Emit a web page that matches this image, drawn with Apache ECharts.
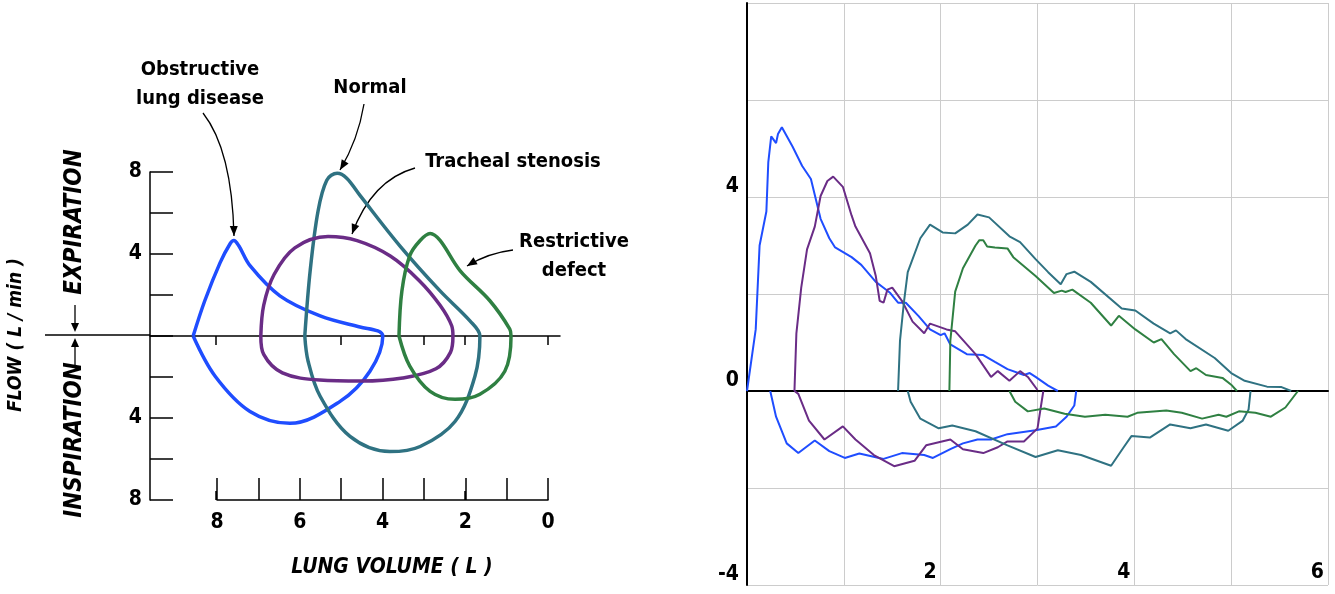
<!DOCTYPE html>
<html>
<head>
<meta charset="utf-8">
<script src="https://cdn.jsdelivr.net/npm/echarts@6/dist/echarts.min.js"></script>
<style>
  html, body { margin: 0; padding: 0; background: #fff; }
  #chart { width: 1335px; height: 594px; }
</style>
</head>
<body>
<div id="chart"></div>
<script>
'use strict';

var FONT = '"Liberation Sans Narrow", "DejaVu Sans Condensed", "Liberation Sans", sans-serif';

// left panel: idealised loops, [lung volume (L), flow] with expiration positive
var obstructiveLoop = [[8.55,0],[8.27,1.72],[7.9,3.58],[7.66,4.5],[7.57,4.66],[7.45,4.4],[7.18,3.43],[6.46,1.96],[5.49,0.98],[4.53,0.44],[4.1,0.25],[3.98,0],
  [4.29,-1.72],[5.01,-3.19],[6.22,-4.26],[7.18,-3.68],[8.02,-1.96],[8.55,0]];
var normalLoop = [[5.86,0],[5.73,3.19],[5.54,6.1],[5.33,7.6],[5.08,7.94],[4.85,7.7],[4.53,6.86],[3.57,4.4],[2.6,2.2],[1.88,0.74],[1.64,0],
  [1.76,-1.96],[2.24,-4.17],[3.08,-5.39],[3.81,-5.64],[4.77,-4.9],[5.49,-2.94],[5.78,-1.23],[5.86,0]];
var stenosisLoop = [[6.92,0],[6.85,1.5],[6.6,3],[6.1,4.3],[5.3,4.85],[4.6,4.65],[3.8,3.9],[3.1,2.7],[2.6,1.5],[2.32,0.5],[2.29,0],
  [2.35,-0.8],[2.7,-1.6],[3.5,-2.05],[4.5,-2.2],[5.5,-2.15],[6.4,-1.8],[6.85,-0.9],[6.92,0]];
var restrictiveLoop = [[3.59,0],[3.52,2.2],[3.33,3.92],[3.08,4.66],[2.84,5.0],[2.6,4.66],[2.12,3.19],[1.4,1.72],[0.92,0.34],[0.89,0],
  [1.04,-1.72],[1.64,-2.84],[2.24,-3.09],[2.84,-2.7],[3.33,-1.47],[3.59,0]];
var flowTickLabels = [8, 4, -4, -8];
var volumeZeroTicks = [0, 2, 3, 5, 8];

// right panel: measured traces, [volume (L), flow]
var blueExp = [[0,0],[0.09,1.27],[0.13,3.0],[0.2,3.7],[0.22,4.72],[0.25,5.25],[0.3,5.11],[0.32,5.3],[0.36,5.44],[0.47,5.04],[0.57,4.64],[0.66,4.37],[0.76,3.55],[0.85,3.15],[0.91,2.96],[1.08,2.76],[1.18,2.6],[1.33,2.25],[1.41,2.13],[1.48,2.02],[1.56,1.82],[1.64,1.82],[1.77,1.55],[1.89,1.27],[2.0,1.15],[2.04,1.19],[2.1,0.96],[2.27,0.76],[2.44,0.74],[2.56,0.6],[2.69,0.45],[2.86,0.33],[2.92,0.37],[2.98,0.29],[3.11,0.11],[3.21,0]];
var blueInsp = [[3.4,0],[3.38,-0.3],[3.3,-0.53],[3.19,-0.73],[2.98,-0.81],[2.69,-0.89],[2.52,-1.0],[2.38,-1.0],[2.36,-0.96],[2.23,-1.08],[2.1,-1.2],[1.92,-1.38],[1.83,-1.32],[1.6,-1.28],[1.41,-1.4],[1.16,-1.29],[1.01,-1.38],[0.85,-1.24],[0.7,-1.02],[0.53,-1.28],[0.41,-1.08],[0.3,-0.53],[0.24,0]];
var purpleExp = [[0.49,0],[0.51,1.19],[0.56,2.13],[0.62,2.92],[0.7,3.39],[0.76,4.02],[0.83,4.33],[0.89,4.42],[0.99,4.21],[1.08,3.62],[1.12,3.39],[1.27,2.84],[1.33,2.37],[1.37,1.86],[1.41,1.82],[1.45,2.09],[1.5,2.13],[1.6,1.86],[1.71,1.43],[1.83,1.19],[1.89,1.39],[2.06,1.27],[2.15,1.23],[2.36,0.76],[2.52,0.29],[2.59,0.41],[2.71,0.21],[2.82,0.41],[2.9,0.29],[3.0,0.02]];
var purpleInsp = [[3.06,0],[3.0,-0.77],[2.86,-1.04],[2.69,-1.04],[2.59,-1.16],[2.44,-1.28],[2.23,-1.2],[2.1,-1.0],[1.85,-1.12],[1.73,-1.44],[1.52,-1.55],[1.31,-1.32],[1.12,-1.0],[0.99,-0.73],[0.8,-1.0],[0.64,-0.61],[0.53,-0.06],[0.49,0]];
var tealExp = [[1.56,0],[1.58,1.04],[1.62,1.82],[1.66,2.45],[1.79,3.15],[1.89,3.43],[2.02,3.27],[2.15,3.25],[2.28,3.43],[2.38,3.64],[2.5,3.58],[2.71,3.19],[2.82,3.07],[2.98,2.72],[3.11,2.45],[3.24,2.2],[3.3,2.41],[3.38,2.46],[3.55,2.25],[3.87,1.7],[4.01,1.66],[4.2,1.39],[4.37,1.19],[4.43,1.25],[4.53,1.07],[4.83,0.68],[5.0,0.37],[5.14,0.21],[5.37,0.09],[5.52,0.08],[5.62,0]];
var tealInsp = [[5.2,0],[5.18,-0.38],[5.12,-0.61],[4.97,-0.82],[4.74,-0.69],[4.58,-0.77],[4.37,-0.69],[4.16,-0.96],[3.97,-0.93],[3.89,-1.16],[3.76,-1.54],[3.45,-1.32],[3.21,-1.22],[2.98,-1.36],[2.69,-1.12],[2.36,-0.83],[2.12,-0.71],[1.98,-0.77],[1.79,-0.57],[1.69,-0.22],[1.66,0]];
var greenExp = [[2.09,0],[2.1,1.04],[2.15,2.05],[2.23,2.53],[2.36,3.0],[2.4,3.11],[2.44,3.11],[2.48,2.98],[2.56,2.96],[2.69,2.94],[2.75,2.76],[2.98,2.37],[3.17,2.02],[3.25,2.07],[3.29,2.04],[3.36,2.09],[3.55,1.82],[3.76,1.35],[3.84,1.55],[4.01,1.27],[4.2,1.0],[4.28,1.07],[4.41,0.76],[4.58,0.41],[4.64,0.47],[4.74,0.33],[4.91,0.27],[5.0,0.13],[5.06,0]];
var greenInsp = [[2.71,0],[2.77,-0.22],[2.9,-0.42],[3.07,-0.36],[3.28,-0.47],[3.49,-0.53],[3.7,-0.49],[3.93,-0.53],[4.03,-0.45],[4.33,-0.4],[4.49,-0.45],[4.7,-0.57],[4.87,-0.49],[4.95,-0.53],[5.08,-0.42],[5.25,-0.45],[5.41,-0.53],[5.56,-0.34],[5.69,0]];

var BLUE = '#1f4dff', PURPLE = '#6a2c86', TEAL = '#2f7282', GREEN = '#2f8042';

function loop(data, color) {
  return { type: 'line', xAxisIndex: 0, yAxisIndex: 0, data: data, smooth: 0.35, showSymbol: false,
    lineStyle: { color: color, width: 3.5 }, silent: true };
}
function trace(data, color) {
  return { type: 'line', xAxisIndex: 3, yAxisIndex: 2, data: data, showSymbol: false,
    lineStyle: { color: color, width: 2 }, silent: true };
}
function txt(x, y, s, size, extra) {
  return Object.assign({ type: 'text', x: x, y: y, style: { text: s, fontFamily: FONT, fontWeight: 'bold',
    fontSize: size, fill: '#000', align: 'center', verticalAlign: 'middle', lineHeight: size + 9 } }, extra || {});
}
function vtxt(x, y, s, size) {
  return { type: 'text', x: x, y: y, rotation: Math.PI / 2, style: { text: s, fontFamily: FONT, fontWeight: 'bold',
    fontStyle: 'italic', fontSize: size, fill: '#000', align: 'center', verticalAlign: 'middle' } };
}
function arrow(x1, y1, cx, cy, x2, y2) {
  var a = Math.atan2(y2 - cy, x2 - cx), L = 10, w = 4;
  return [
    { type: 'bezierCurve', shape: { x1: x1, y1: y1, cpx1: cx, cpy1: cy, x2: x2, y2: y2 },
      style: { stroke: '#000', lineWidth: 1.3, fill: null } },
    { type: 'polygon', shape: { points: [[x2, y2],
      [x2 - L * Math.cos(a) + w * Math.sin(a), y2 - L * Math.sin(a) - w * Math.cos(a)],
      [x2 - L * Math.cos(a) - w * Math.sin(a), y2 - L * Math.sin(a) + w * Math.cos(a)]] },
      style: { fill: '#000' } }
  ];
}

var chart = echarts.init(document.getElementById('chart'));
var blackLine = { color: '#000', width: 1.5 };

chart.setOption({
  animation: false,
  grid: [
    { left: 150, top: 172, width: 410, height: 328 },
    { left: 217, top: 470, width: 331, height: 30 },
    { left: 747, top: 3, width: 581, height: 582 }
  ],
  xAxis: [
    { gridIndex: 0, type: 'value', inverse: true, min: -0.29, max: 9.59, position: 'bottom',
      axisLine: { onZero: true, lineStyle: blackLine },
      axisTick: { customValues: volumeZeroTicks, length: 9, lineStyle: blackLine },
      axisLabel: { show: false }, splitLine: { show: false } },
    { gridIndex: 0, type: 'value', inverse: true, min: -0.29, max: 9.59, position: 'bottom',
      axisLine: { onZero: true, show: false },
      axisTick: { customValues: volumeZeroTicks, inside: true, length: 9, lineStyle: blackLine },
      axisLabel: { show: false }, splitLine: { show: false } },
    { gridIndex: 1, type: 'value', inverse: true, min: 0, max: 8, interval: 1,
      axisLine: { lineStyle: blackLine },
      axisTick: { inside: true, length: 22, lineStyle: blackLine },
      axisLabel: { margin: 12, fontFamily: FONT, fontWeight: 'bold', fontSize: 21, color: '#000',
        formatter: function (v) { return v % 2 === 0 ? String(v) : ''; } },
      splitLine: { show: false } },
    { gridIndex: 2, type: 'value', min: 0, max: 6, interval: 1,
      axisLine: { onZero: true, lineStyle: { color: '#000', width: 2 } },
      axisTick: { show: false },
      axisLabel: { inside: true, align: 'right', verticalAlign: 'bottom', margin: 2, padding: [0, 4, 0, 0],
        fontFamily: FONT, fontWeight: 'bold', fontSize: 21, color: '#000',
        formatter: function (v) { return (v > 0 && v % 2 === 0) ? String(v) : ''; } },
      splitLine: { show: true, lineStyle: { color: '#cccccc', width: 1 } } }
  ],
  yAxis: [
    { gridIndex: 0, type: 'value', min: -8, max: 8, interval: 2, position: 'left',
      axisLine: { show: true, onZero: false, lineStyle: blackLine },
      axisTick: { inside: true, length: 23, lineStyle: blackLine },
      axisLabel: { margin: 8, fontFamily: FONT, fontWeight: 'bold', fontSize: 21, color: '#000',
        formatter: function (v) { return flowTickLabels.indexOf(v) >= 0 ? String(Math.abs(v)) : ''; } },
      splitLine: { show: false } },
    { gridIndex: 1, type: 'value', show: false, min: 0, max: 1 },
    { gridIndex: 2, type: 'value', min: -4, max: 8, interval: 2,
      axisLine: { show: true, onZero: false, lineStyle: { color: '#000', width: 2 } },
      axisTick: { show: false },
      axisLabel: { margin: 8, verticalAlign: 'bottom', fontFamily: FONT, fontWeight: 'bold', fontSize: 21, color: '#000',
        formatter: function (v) { return (v === 4 || v === 0 || v === -4) ? String(v) : ''; } },
      splitLine: { show: true, lineStyle: { color: '#cccccc', width: 1 } } }
  ],
  series: [
    loop(obstructiveLoop, BLUE), loop(normalLoop, TEAL), loop(stenosisLoop, PURPLE), loop(restrictiveLoop, GREEN),
    trace(blueExp, BLUE), trace(blueInsp, BLUE), trace(purpleExp, PURPLE), trace(purpleInsp, PURPLE),
    trace(tealExp, TEAL), trace(tealInsp, TEAL), trace(greenExp, GREEN), trace(greenInsp, GREEN)
  ],
  graphic: [
    { type: 'line', shape: { x1: 45, y1: 335, x2: 150, y2: 335 }, style: { stroke: '#000', lineWidth: 1.5 } },
    { type: 'line', shape: { x1: 75, y1: 305, x2: 75, y2: 330 }, style: { stroke: '#000', lineWidth: 1.3 } },
    { type: 'polygon', shape: { points: [[75, 332], [71, 323], [79, 323]] }, style: { fill: '#000' } },
    { type: 'line', shape: { x1: 75, y1: 365, x2: 75, y2: 340 }, style: { stroke: '#000', lineWidth: 1.3 } },
    { type: 'polygon', shape: { points: [[75, 338], [71, 347], [79, 347]] }, style: { fill: '#000' } },
    vtxt(16, 335, 'FLOW ( L / min )', 19),
    vtxt(75, 222, 'EXPIRATION', 24),
    vtxt(75, 440, 'INSPIRATION', 24),
    { type: 'text', x: 392, y: 568, style: { text: 'LUNG VOLUME ( L )', fontFamily: FONT, fontWeight: 'bold',
      fontStyle: 'italic', fontSize: 21, fill: '#000', align: 'center', verticalAlign: 'middle' } },
    txt(200, 84, 'Obstructive\nlung disease', 20),
    txt(370, 88, 'Normal', 20),
    txt(513, 162, 'Tracheal stenosis', 20),
    txt(574, 256, 'Restrictive\ndefect', 20)
  ].concat(arrow(203, 113, 232, 150, 234, 236))
   .concat(arrow(364, 104, 358, 140, 340, 170))
   .concat(arrow(415, 168, 372, 180, 352, 234))
   .concat(arrow(513, 250, 488, 253, 467, 266))
});
</script>
</body>
</html>
